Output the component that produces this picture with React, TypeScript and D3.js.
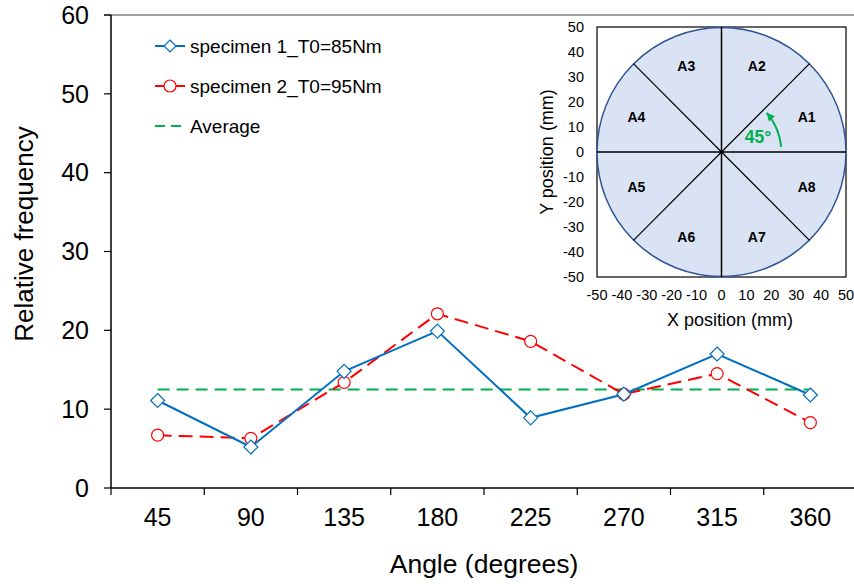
import React from 'react';
import * as d3 from 'd3';

// main chart data
const angles = ['45', '90', '135', '180', '225', '270', '315', '360'];
const specimen1 = [11.1, 5.2, 14.8, 19.9, 8.9, 11.9, 17.0, 11.8];
const specimen2 = [6.7, 6.3, 13.4, 22.1, 18.6, 11.9, 14.5, 8.3];
const averageValue = 12.5;
const yTicks = [0, 10, 20, 30, 40, 50, 60];

const legendLabels = ['specimen 1_T0=85Nm', 'specimen 2_T0=95Nm', 'Average'];

// inset data
const insetTicks = [-50, -40, -30, -20, -10, 0, 10, 20, 30, 40, 50];
const sectorLabels = ['A1', 'A2', 'A3', 'A4', 'A5', 'A6', 'A7', 'A8'];
const sectorBoundaries = [0, 45, 90, 135, 180, 225, 270, 315];
const discRadius = 50;
const labelRadius = 37;

const BLUE = '#0070c0';
const RED = '#ff0000';
const GREEN = '#00b050';
const FONT = 'Arial, "Liberation Sans", sans-serif';

export default function App() {
    const width = 854;
    const height = 584;
    const left = 111;
    const top = 15;
    const bottom = 488;

    const x = d3.scaleBand().domain(angles).range([left, 857]);
    const y = d3.scaleLinear().domain([0, 60]).range([bottom, top]);
    const cx = (a: string) => (x(a) as number) + x.bandwidth() / 2;

    const line = d3.line<number>()
        .x((d, i) => cx(angles[i]))
        .y(d => y(d));

    // inset scales
    const ix = d3.scaleLinear().domain([-50, 50]).range([597, 846]);
    const iy = d3.scaleLinear().domain([-50, 50]).range([277, 27]);
    const pxPerMm = (ix(50) - ix(-50)) / 100;
    const ox = ix(0);
    const oy = iy(0);

    const diamond = (px: number, py: number, r: number) =>
        `M${px},${py - r}L${px + r},${py}L${px},${py + r}L${px - r},${py}Z`;

    // 45 degree arrow arc
    const arcR = 24 * pxPerMm;
    const a0 = (5 * Math.PI) / 180;
    const a1 = (41 * Math.PI) / 180;
    const arcPts = d3.range(0, 21).map(i => {
        const a = a0 + ((a1 - a0) * i) / 20;
        return [ox + arcR * Math.cos(a), oy - arcR * Math.sin(a)] as [number, number];
    });
    const end = arcPts[arcPts.length - 1];
    const tangent = a1 + Math.PI / 2;
    const tx = Math.cos(tangent);
    const ty = -Math.sin(tangent);
    const headLen = 8;
    const headW = 4;
    const hb = [end[0] - tx * headLen, end[1] - ty * headLen];
    const head = `M${end[0]},${end[1]}L${hb[0] + ty * headW},${hb[1] - tx * headW}L${hb[0] - ty * headW},${hb[1] + tx * headW}Z`;

    return (
        <svg width={width} height={height} style={{ position: 'absolute', left: 0, top: 0, background: '#fff' }} fontFamily={FONT}>
            {/* top border */}
            <line x1={left - 7} x2={width} y1={top} y2={top} stroke="#808080" strokeWidth={1.5} />

            {/* y axis */}
            <line x1={left} x2={left} y1={top} y2={bottom} stroke="#000" strokeWidth={1.5} />
            {yTicks.map(t => (
                <g key={t}>
                    <line x1={left - 7} x2={left} y1={y(t)} y2={y(t)} stroke="#000" strokeWidth={1.2} />
                    <text x={left - 22} y={y(t)} dy="0.35em" textAnchor="end" fontSize={25}>{t}</text>
                </g>
            ))}
            <text transform={`translate(33,${234}) rotate(-90)`} textAnchor="middle" fontSize={26}>Relative frequency</text>

            {/* x axis */}
            <line x1={left} x2={width} y1={bottom} y2={bottom} stroke="#000" strokeWidth={1.5} />
            {angles.map(a => (
                <g key={a}>
                    <line x1={x(a)} x2={x(a)} y1={bottom} y2={bottom + 7} stroke="#000" strokeWidth={1.2} />
                    <text x={cx(a)} y={526} textAnchor="middle" fontSize={25}>{a}</text>
                </g>
            ))}
            <line x1={857} x2={857} y1={bottom} y2={bottom + 7} stroke="#000" />
            <text x={484} y={573} textAnchor="middle" fontSize={26.5}>Angle (degrees)</text>

            {/* average */}
            <line x1={cx(angles[0])} x2={cx(angles[angles.length - 1])} y1={y(averageValue)} y2={y(averageValue)}
                stroke={GREEN} strokeWidth={2} strokeDasharray="12,7" />

            {/* specimen 2 */}
            <path d={line(specimen2) as string} fill="none" stroke={RED} strokeWidth={2} strokeDasharray="14,7" />
            {specimen2.map((v, i) => (
                <circle key={i} cx={cx(angles[i])} cy={y(v)} r={6} fill="#fff" stroke={RED} strokeWidth={1.2} />
            ))}

            {/* specimen 1 */}
            <path d={line(specimen1) as string} fill="none" stroke={BLUE} strokeWidth={2} />
            {specimen1.map((v, i) => (
                <path key={i} d={diamond(cx(angles[i]), y(v), 7)} fill="#fff" stroke={BLUE} strokeWidth={1.2} />
            ))}

            {/* legend */}
            <g>
                <line x1={155} x2={185} y1={46} y2={46} stroke={BLUE} strokeWidth={2} />
                <path d={diamond(170, 46, 6)} fill="#fff" stroke={BLUE} strokeWidth={1.2} />
                <text x={190} y={46} dy="0.35em" fontSize={19}>{legendLabels[0]}</text>
                <line x1={155} x2={185} y1={86} y2={86} stroke={RED} strokeWidth={2} />
                <circle cx={170} cy={86} r={6} fill="#fff" stroke={RED} strokeWidth={1.2} />
                <text x={190} y={86} dy="0.35em" fontSize={19}>{legendLabels[1]}</text>
                <line x1={155} x2={185} y1={126} y2={126} stroke={GREEN} strokeWidth={2} strokeDasharray="10,6" />
                <text x={190} y={126} dy="0.35em" fontSize={19}>{legendLabels[2]}</text>
            </g>

            {/* inset */}
            <g>
                <rect x={ix(-50)} y={iy(50)} width={ix(50) - ix(-50)} height={iy(-50) - iy(50)} fill="#fff" stroke="#000" strokeWidth={1.2} />
                <circle cx={ox} cy={oy} r={discRadius * pxPerMm} fill="#dae3f3" stroke="#2f5597" strokeWidth={1.5} />
                {sectorBoundaries.map(deg => {
                    const a = (deg * Math.PI) / 180;
                    return (
                        <line key={deg} x1={ox} y1={oy}
                            x2={ix(discRadius * Math.cos(a))} y2={iy(discRadius * Math.sin(a))}
                            stroke="#000" strokeWidth={deg % 90 === 0 ? 1.5 : 1.2} />
                    );
                })}
                <circle cx={ox} cy={oy} r={2} fill="#000" />
                {sectorLabels.map((s, i) => {
                    const a = ((22.5 + 45 * i) * Math.PI) / 180;
                    return (
                        <text key={s} x={ix(labelRadius * Math.cos(a))} y={iy(labelRadius * Math.sin(a))} dy="0.35em"
                            textAnchor="middle" fontSize={14} fontWeight="bold">{s}</text>
                    );
                })}
                <path d={d3.line()(arcPts) as string} fill="none" stroke={GREEN} strokeWidth={2} />
                <path d={head} fill={GREEN} />
                <text x={758} y={137} dy="0.35em" textAnchor="middle" fontSize={17.5} fontWeight="bold" fill={GREEN}>45°</text>

                {insetTicks.map(t => (
                    <text key={'y' + t} x={ix(-50) - 13} y={iy(t)} dy="0.35em" textAnchor="end" fontSize={14.5}>{t}</text>
                ))}
                {insetTicks.map(t => (
                    <text key={'x' + t} x={ix(t)} y={iy(-50) + 23} textAnchor="middle" fontSize={14.5}>{t}</text>
                ))}
                <text transform={`translate(553,${oy}) rotate(-90)`} textAnchor="middle" fontSize={18}>Y position (mm)</text>
                <text x={730} y={326} textAnchor="middle" fontSize={18}>X position (mm)</text>
            </g>
        </svg>
    );
}
